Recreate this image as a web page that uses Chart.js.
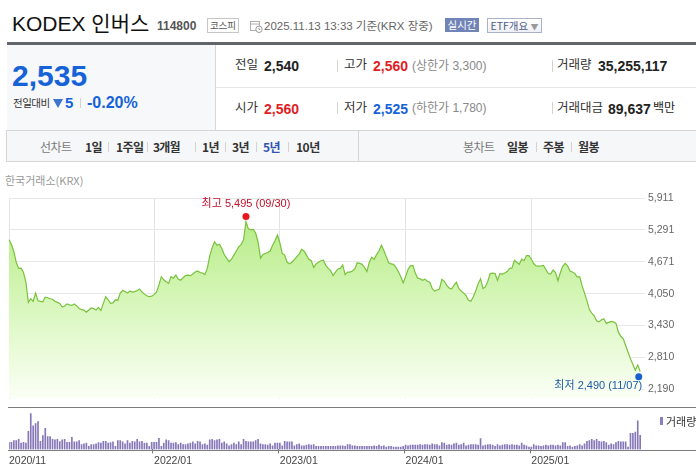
<!DOCTYPE html>
<html>
<head>
<meta charset="utf-8">
<script src="https://cdn.jsdelivr.net/npm/chart.js@4.4.1/dist/chart.umd.min.js"></script>
<style>
body{margin:0;width:696px;height:468px;overflow:hidden;background:#fff;position:relative;
  font-family:"Liberation Sans","Noto Sans CJK KR",sans-serif;color:#333}
.a{position:absolute;white-space:nowrap}
.k{font-family:"Noto Sans CJK KR",sans-serif}
.b{font-weight:bold}
.sep{position:absolute;width:1px;background:#d3d3d3}
canvas{position:absolute;left:0}
</style>
</head>
<body>

<!-- header -->
<div class="a" style="left:12px;top:13px;font-size:21px;line-height:21px;color:#111">KODEX 인버스</div>
<div class="a b" style="left:157px;top:19.5px;font-size:12px;line-height:12px;color:#555">114800</div>
<div class="a k" style="left:207px;top:18px;width:30px;height:13px;border:1px solid #c6c6c6;font-size:9.5px;line-height:13px;text-align:center;color:#555">코스피</div>
<svg class="a" style="left:250px;top:20px" width="13" height="13" viewBox="0 0 13 13">
  <rect x="0.5" y="1.5" width="9" height="9" fill="none" stroke="#b0b0b0"/>
  <line x1="0.5" y1="4" x2="9.5" y2="4" stroke="#b0b0b0"/>
  <circle cx="9" cy="9.3" r="3.2" fill="#fff" stroke="#999"/>
  <path d="M9 7.8v1.7h1.3" stroke="#999" fill="none"/>
</svg>
<div class="a" style="left:264px;top:19.5px;font-size:11.5px;line-height:12px;color:#666">2025.11.13 13:33 기준(KRX 장중)</div>
<div class="a k" style="left:445px;top:18px;width:34px;height:14px;background:#7184b7;color:#fff;font-size:10.5px;line-height:14px;text-align:center">실시간</div>
<div class="a k" style="left:487px;top:18px;width:53px;height:13px;border:1px solid #a9b2ca;background:linear-gradient(#fff,#eef0f5);color:#4b5b85;font-size:10.5px;line-height:13px;text-align:center">ETF개요 <span style="color:#999;font-size:8px">▼</span></div>

<div class="a" style="left:7px;top:42px;width:689px;height:3px;background:#62666b"></div>

<!-- price panel -->
<div class="a" style="left:7px;top:45px;width:208px;height:85px;background:#f7f8fa;border-right:1px solid #d8d8d8"></div>
<div class="a" style="left:216px;top:87px;width:480px;height:1px;background:#e6e6e6"></div>
<div class="a b" style="left:12px;top:61px;font-size:30px;line-height:30px;color:#1663d8">2,535</div>
<div class="a k" style="left:13px;top:97px;font-size:10.5px;line-height:11px;color:#333;letter-spacing:-0.5px">전일대비</div>
<div class="a" style="left:53px;top:99px;width:0;height:0;border-left:5px solid transparent;border-right:5px solid transparent;border-top:9px solid #3d74cf"></div>
<div class="a b" style="left:65px;top:95px;font-size:15px;line-height:15px;color:#1663d8">5</div>
<div class="sep" style="left:80px;top:98px;height:10px"></div>
<div class="a b" style="left:87px;top:94.5px;font-size:16px;line-height:16px;color:#1663d8">-0.20%</div>

<div class="a" style="left:235px;top:59px;font-size:12.5px;line-height:13px">전일</div>
<div class="a b" style="left:264px;top:59px;font-size:14px;line-height:14px;color:#222">2,540</div>
<div class="sep" style="left:337px;top:60px;height:12px"></div>
<div class="a" style="left:344px;top:59px;font-size:12.5px;line-height:13px">고가</div>
<div class="a b" style="left:373px;top:59px;font-size:14px;line-height:14px;color:#e01e24">2,560</div>
<div class="a" style="left:412px;top:59.5px;font-size:12px;line-height:12px;color:#888">(상한가 3,300)</div>
<div class="sep" style="left:552px;top:60px;height:12px"></div>
<div class="a" style="left:557px;top:59px;font-size:12.5px;line-height:13px">거래량</div>
<div class="a b" style="left:598px;top:59px;font-size:14px;line-height:14px;color:#222">35,255,117</div>

<div class="a" style="left:235px;top:101.5px;font-size:12.5px;line-height:13px">시가</div>
<div class="a b" style="left:264px;top:101.5px;font-size:14px;line-height:14px;color:#e01e24">2,560</div>
<div class="sep" style="left:337px;top:102px;height:12px"></div>
<div class="a" style="left:344px;top:101.5px;font-size:12.5px;line-height:13px">저가</div>
<div class="a b" style="left:373px;top:101.5px;font-size:14px;line-height:14px;color:#1663d8">2,525</div>
<div class="a" style="left:412px;top:102px;font-size:12px;line-height:12px;color:#888">(하한가 1,780)</div>
<div class="sep" style="left:552px;top:102px;height:12px"></div>
<div class="a" style="left:557px;top:101.5px;font-size:12.5px;line-height:13px">거래대금</div>
<div class="a b" style="left:608px;top:101.5px;font-size:14px;line-height:14px;color:#222">89,637</div>
<div class="a" style="left:653px;top:102px;font-size:12px;line-height:12px;color:#222">백만</div>

<!-- tabs -->
<div class="a" style="left:6px;top:130px;width:689px;height:30px;border:1px solid #d6d6d6;border-right:none;background:#f6f7f9"></div>
<div class="sep" style="left:358px;top:131px;height:30px;background:#d6d6d6"></div>
<div class="a k" style="left:40px;top:141px;font-size:12px;line-height:12px;color:#7a7a7a;letter-spacing:-0.5px">선차트</div>
<div class="a k b" style="left:85px;top:141px;font-size:12px;line-height:12px;letter-spacing:-0.5px">1일</div>
<div class="sep" style="left:108px;top:142px;height:10px"></div>
<div class="a k b" style="left:116px;top:141px;font-size:12px;line-height:12px;letter-spacing:-0.5px">1주일</div>
<div class="sep" style="left:147px;top:142px;height:10px"></div>
<div class="a k b" style="left:153px;top:141px;font-size:12px;line-height:12px;letter-spacing:-0.8px">3개월</div>
<div class="sep" style="left:195px;top:142px;height:10px"></div>
<div class="a k b" style="left:202px;top:141px;font-size:12px;line-height:12px;letter-spacing:-0.5px">1년</div>
<div class="sep" style="left:225px;top:142px;height:10px"></div>
<div class="a k b" style="left:232px;top:141px;font-size:12px;line-height:12px;letter-spacing:-0.5px">3년</div>
<div class="sep" style="left:256px;top:142px;height:10px"></div>
<div class="a k b" style="left:263px;top:141px;font-size:12px;line-height:12px;letter-spacing:-0.5px;color:#3154b0">5년</div>
<div class="sep" style="left:288px;top:142px;height:10px"></div>
<div class="a k b" style="left:296px;top:141px;font-size:12px;line-height:12px;letter-spacing:-0.5px">10년</div>
<div class="a k" style="left:463px;top:141px;font-size:12px;line-height:12px;color:#7a7a7a;letter-spacing:-0.5px">봉차트</div>
<div class="a k b" style="left:507px;top:141px;font-size:12px;line-height:12px;letter-spacing:-0.5px">일봉</div>
<div class="sep" style="left:536px;top:142px;height:10px"></div>
<div class="a k b" style="left:543px;top:141px;font-size:12px;line-height:12px;letter-spacing:-0.5px">주봉</div>
<div class="sep" style="left:571px;top:142px;height:10px"></div>
<div class="a k b" style="left:578px;top:141px;font-size:12px;line-height:12px;letter-spacing:-0.5px">월봉</div>

<div class="a k" style="left:5px;top:174.5px;font-size:11px;line-height:11px;color:#999">한국거래소(KRX)</div>

<!-- charts -->
<canvas id="price" width="696" height="220" style="top:188px"></canvas>
<canvas id="vol" width="696" height="58" style="top:410px"></canvas>
<div class="a" style="left:8px;top:407px;width:688px;height:1px;background:#7d7d7d"></div>
<div class="a" style="left:8px;top:450px;width:688px;height:1px;background:#7d7d7d"></div>
<div class="a" style="left:660px;top:417px;width:3px;height:8px;background:#8b7fb9"></div>
<div class="a k" style="left:666px;top:415.5px;font-size:11px;line-height:11px;color:#333">거래량</div>

<script>
// weekly closes, 2020-11-13 .. 2025-11-14
const closePrices = [
  5100, 5010, 4870, 4660, 4540, 4545, 4460, 4270, 3880, 3950,
  3900, 4060, 3910, 3900, 3890, 3980, 3970, 3950, 3940, 3900,
  3880, 3860, 3790, 3810, 3850, 3830, 3820, 3850, 3810, 3760,
  3740, 3730, 3690, 3730, 3770, 3760, 3730, 3780, 3720, 3860,
  3990, 3930, 3860, 3870, 3930, 3920, 4060, 4110, 4090, 4060,
  4100, 4080, 4090, 4110, 4140, 4080, 4040, 4010, 3990, 4000,
  4030, 4080, 4220, 4380, 4320, 4280, 4250, 4380, 4350, 4410,
  4330, 4310, 4360, 4400, 4410, 4400, 4430, 4470, 4490, 4460,
  4450, 4420, 4540, 4780, 4940, 5060, 4990, 5010, 4930, 4810,
  4740, 4670, 4720, 4800, 4880, 4960, 5010, 5100, 5450, 5310,
  5290, 5300, 5230, 5050, 4740, 4810, 4830, 4850, 4880, 4990,
  5080, 5190, 5040, 4830, 4800, 4660, 4630, 4660, 4710, 4770,
  4820, 4910, 4880, 4800, 4720, 4690, 4560, 4630, 4660, 4690,
  4700, 4600, 4540, 4500, 4400, 4470, 4530, 4540, 4610, 4420,
  4470, 4470, 4490, 4530, 4650, 4640, 4620, 4560, 4480, 4660,
  4760, 4720, 4810, 4880, 4990, 4890, 4770, 4650, 4630, 4620,
  4560, 4480, 4380, 4260, 4380, 4520, 4590, 4600, 4450, 4350,
  4340, 4310, 4330, 4290, 4270, 4150, 4100, 4120, 4140, 4330,
  4290, 4210, 4160, 4140, 4210, 4270, 4150, 4100, 4060, 4010,
  3920, 3900, 3990, 4100, 4240, 4340, 4150, 4180, 4290, 4440,
  4450, 4440, 4310, 4440, 4430, 4450, 4480, 4540, 4550, 4700,
  4660, 4620, 4720, 4690, 4790, 4790, 4720, 4630, 4590, 4585,
  4590, 4600, 4520, 4440, 4430, 4510, 4460, 4300, 4460, 4580,
  4640, 4590, 4490, 4470, 4440, 4370, 4380, 4200, 4060, 3910,
  3740, 3670, 3620, 3520, 3500, 3540, 3560, 3470, 3490, 3510,
  3500, 3470, 3300, 3220, 3170, 3040, 2910, 2780, 2670, 2560,
  2660, 2535
];

// weekly volume (relative units)
const volumes = [
  73, 73, 90, 90, 103, 63, 73, 63, 183, 363,
  240, 263, 283, 83, 140, 213, 130, 130, 103, 97,
  103, 80, 97, 103, 73, 73, 123, 77, 77, 90,
  50, 57, 63, 30, 50, 50, 57, 70, 63, 83,
  83, 63, 70, 77, 30, 90, 90, 77, 57, 90,
  63, 83, 77, 103, 77, 83, 63, 63, 30, 73,
  73, 73, 113, 30, 63, 97, 90, 63, 63, 70,
  50, 63, 50, 50, 57, 63, 77, 57, 83, 77,
  50, 57, 43, 97, 103, 90, 97, 103, 63, 77,
  57, 37, 50, 63, 50, 77, 50, 103,
  83, 77, 77, 77, 90, 103, 57, 50, 50, 43,
  57, 37, 63, 63, 63, 37, 83, 77, 77, 77,
  37, 50, 57, 37, 37, 43, 50, 43, 50, 30,
  30, 30, 30, 30, 30, 30, 30, 30, 37, 37,
  37, 30, 50, 50, 37, 37, 30, 30, 30, 30,
  30, 30, 30, 37, 30, 43, 30, 37, 23, 30,
  30, 23, 23, 23, 23, 30, 43, 37, 43, 43,
  43, 43, 50, 43, 50, 50, 43, 57, 50,
  50, 37, 70, 63, 43, 50, 43, 57, 63,
  43, 50, 63, 37, 43, 50, 50, 50, 43, 110,
  37, 43, 50, 50, 43, 30, 50, 37, 43, 50,
  50, 43, 50, 43, 43, 37, 63, 43, 37, 23,
  23, 50, 37, 37, 30, 37, 43, 37, 43, 43,
  37, 43, 37, 70, 70, 30, 37, 23, 30, 37,
  50, 37, 57, 83, 90, 103, 90, 103, 83, 77,
  83, 70, 43, 57, 50, 70, 83, 77, 77, 77,
  23, 163, 163, 177, 290, 143
];

const tickLabels = ['2020/11', '2022/01', '2023/01', '2024/01', '2025/01'];
const priceTicks = [2190, 2810, 3430, 4050, 4671, 5291, 5911];

const hiIdx = 98, hiVal = 5495, hiText = '최고 5,495 (09/30)';
const loIdx = 260, loVal = 2490, loText = '최저 2,490 (11/07)';

// week categories (two spare weeks at the right edge)
const weekLabels = [];
for (let d = new Date(2020, 10, 13), i = 0; i < 264; i++, d.setDate(d.getDate() + 7)) {
  weekLabels.push(d.getFullYear() + '/' + String(d.getMonth() + 1).padStart(2, '0'));
}
const tickIdx = tickLabels.map(t => weekLabels.indexOf(t));

const FONT = '"Liberation Sans", "Noto Sans CJK KR", sans-serif';
Chart.defaults.font.family = FONT;

const markPlugin = {
  id: 'marks',
  afterDatasetsDraw(chart) {
    const { ctx, scales: { x, y } } = chart;
    ctx.save();
    ctx.font = '11px ' + FONT;
    ctx.textBaseline = 'middle';

    const hx = x.getPixelForValue(hiIdx), hy = y.getPixelForValue(hiVal);
    ctx.fillStyle = '#e8141e';
    ctx.beginPath(); ctx.arc(hx, hy - 3, 3.5, 0, Math.PI * 2); ctx.fill();
    ctx.fillStyle = '#c0102a';
    ctx.textAlign = 'center';
    ctx.fillText(hiText, hx, hy - 15);

    const lx = x.getPixelForValue(loIdx), ly = y.getPixelForValue(loVal);
    ctx.fillStyle = '#1a5fd0';
    ctx.beginPath(); ctx.arc(lx + 1, ly + 3, 3.5, 0, Math.PI * 2); ctx.fill();
    ctx.fillStyle = '#1d5aa8';
    ctx.textAlign = 'right';
    ctx.fillText(loText, lx + 4.5, ly + 12);
    ctx.restore();
  }
};

new Chart(document.getElementById('price'), {
  type: 'line',
  data: {
    labels: weekLabels,
    datasets: [{
      data: closePrices,
      borderColor: '#78c23c',
      borderWidth: 1.2,
      pointRadius: 0,
      tension: 0,
      fill: 'start',
      backgroundColor: c => {
        const a = c.chart.chartArea;
        if (!a) return 'rgba(0,0,0,0)';
        const g = c.chart.ctx.createLinearGradient(0, a.top, 0, a.bottom);
        g.addColorStop(0, '#aee879');
        g.addColorStop(0.45, '#d2f5b2');
        g.addColorStop(1, '#fbfff6');
        return g;
      }
    }]
  },
  options: {
    responsive: false,
    animation: false,
    layout: { padding: { left: 9, top: 10, bottom: 1, right: 0 } },
    plugins: { legend: { display: false }, tooltip: { enabled: false } },
    scales: {
      x: {
        ticks: { display: false, autoSkip: false },
        grid: {
          drawTicks: false,
          color: c => tickIdx.includes(c.index) ? '#e3e3e3' : 'rgba(0,0,0,0)'
        },
        border: { display: false },
        afterFit: s => { s.height = 0; }
      },
      y: {
        position: 'right',
        min: 2005,
        max: 5911,
        afterBuildTicks: s => { s.ticks = priceTicks.map(v => ({ value: v })); },
        afterFit: s => { s.width = 51; },
        ticks: {
          autoSkip: false,
          padding: 3,
          color: '#666',
          font: { size: 10.5 },
          callback: v => v.toLocaleString('en-US')
        },
        grid: { drawTicks: false, color: '#e8e8e8' },
        border: { display: false }
      }
    }
  },
  plugins: [markPlugin]
});

new Chart(document.getElementById('vol'), {
  type: 'bar',
  data: {
    labels: weekLabels,
    datasets: [{
      data: volumes,
      backgroundColor: '#8677b8',
      barThickness: 1
    }]
  },
  options: {
    responsive: false,
    animation: false,
    layout: { padding: { left: 9, right: 51, top: 2, bottom: 0 } },
    plugins: { legend: { display: false }, tooltip: { enabled: false } },
    scales: {
      x: {
        offset: false,
        ticks: {
          autoSkip: false,
          minRotation: 0,
          maxRotation: 0,
          align: 'start',
          padding: 1,
          color: '#444',
          font: { size: 10.5 },
          callback: (v, i) => tickIdx.includes(i) ? weekLabels[i] : ''
        },
        grid: {
          drawOnChartArea: false,
          drawTicks: true,
          tickLength: 4,
          color: c => tickIdx.includes(c.index) ? '#777' : 'rgba(0,0,0,0)'
        },
        border: { display: false }
      },
      y: { display: false, min: 0, max: 380 }
    }
  }
});
</script>
</body>
</html>
